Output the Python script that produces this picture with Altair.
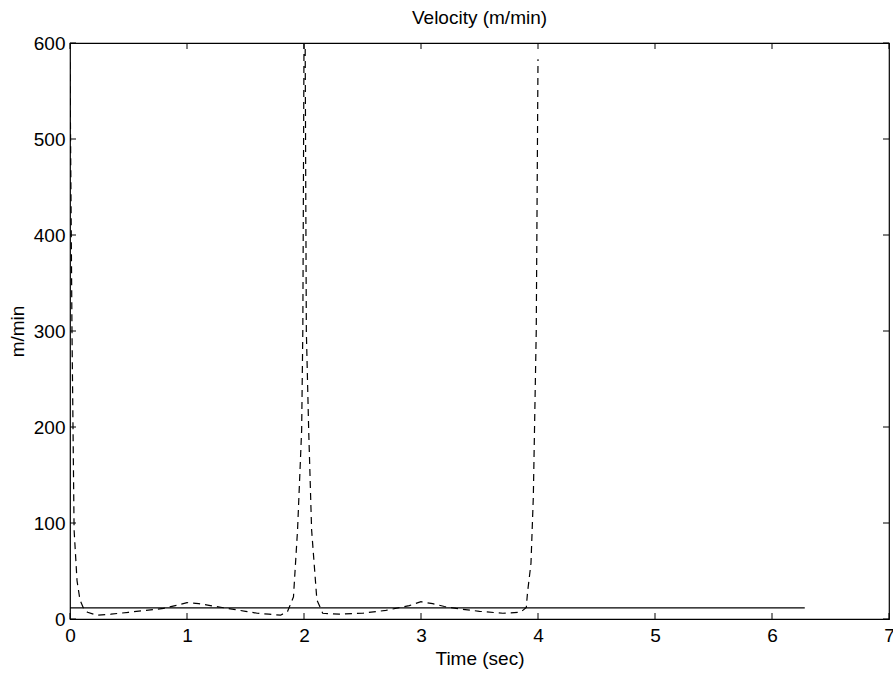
import altair as alt
import pandas as pd

# Dashed curve (velocity)
t_vals = [0, 0.017, 0.035, 0.06, 0.085, 0.12, 0.15, 0.23, 0.35, 0.5, 0.65, 0.8, 0.9, 1.0,
          1.1, 1.2, 1.3, 1.4, 1.5, 1.6, 1.7, 1.8, 1.86, 1.91, 1.945, 1.98, 1.99, 2.0,
          2.005, 2.01, 2.02, 2.04, 2.065, 2.11, 2.16, 2.3, 2.5, 2.7, 2.9, 3.0, 3.1,
          3.2, 3.3, 3.5, 3.7, 3.85, 3.9, 3.91, 3.94, 3.96, 3.985, 4.0]
v_vals = [580, 300, 93, 40, 20, 10, 7, 4, 5, 7, 9, 11, 14, 17,
          16, 14, 12, 10, 8, 6, 5, 4, 8, 23, 93, 197, 302, 600,
          700, 600, 300, 197, 93, 20, 6, 5, 6, 9, 14, 18, 16,
          13, 11, 8, 6, 7, 12, 27, 58, 127, 300, 583]

# Solid reference line
ref_t = [0, 6.28]
ref_v = [11.5, 11.5]

x_ticks = [0, 1, 2, 3, 4, 5, 6, 7]
y_ticks = [0, 100, 200, 300, 400, 500, 600]

W, H = 819, 576
FONT = "Liberation Sans"

curve = pd.DataFrame({"t": t_vals, "v": v_vals})
ref = pd.DataFrame({"t": ref_t, "v": ref_v})
xt = pd.DataFrame({"t": x_ticks})
yt = pd.DataFrame({"v": y_ticks})

xs = alt.Scale(domain=[0, 7], nice=False, zero=False)
ys = alt.Scale(domain=[0, 600], nice=False)

xaxis = alt.Axis(values=x_ticks, format="d", ticks=False, domain=False, grid=False,
                 labelFontSize=19, labelFlush=False,
                 labelFont=FONT, labelColor="black", labelPadding=7, titleFont=FONT,
                 titleFontSize=19, titleFontWeight="normal", titleColor="black", titlePadding=4)
yaxis = alt.Axis(values=y_ticks, format="d", ticks=False, domain=False, grid=False,
                 labelFontSize=19, labelFlush=False,
                 labelFont=FONT, labelColor="black", labelPadding=5, titleFont=FONT,
                 titleFontSize=19, titleFontWeight="normal", titleColor="black", titlePadding=6)

base_line = alt.Chart(curve).mark_line(
    color="black", strokeWidth=1.2, strokeDash=[7, 5], clip=True
).encode(
    x=alt.X("t:Q", scale=xs, axis=xaxis, title="Time (sec)"),
    y=alt.Y("v:Q", scale=ys, axis=yaxis, title="m/min"),
    order="t:Q",
)

ref_line = alt.Chart(ref).mark_line(color="black", strokeWidth=1.2).encode(
    x=alt.X("t:Q", scale=xs),
    y=alt.Y("v:Q", scale=ys),
)

bottom_ticks = alt.Chart(xt).mark_rule(color="black", strokeWidth=1).encode(
    x=alt.X("t:Q", scale=xs), y=alt.value(H), y2=alt.value(H - 6))
top_ticks = alt.Chart(xt).mark_rule(color="black", strokeWidth=1).encode(
    x=alt.X("t:Q", scale=xs), y=alt.value(0), y2=alt.value(6))
left_ticks = alt.Chart(yt).mark_rule(color="black", strokeWidth=1).encode(
    y=alt.Y("v:Q", scale=ys), x=alt.value(0), x2=alt.value(6))
right_ticks = alt.Chart(yt).mark_rule(color="black", strokeWidth=1).encode(
    y=alt.Y("v:Q", scale=ys), x=alt.value(W), x2=alt.value(W - 6))

chart = alt.layer(
    base_line, ref_line, bottom_ticks, top_ticks, left_ticks, right_ticks
).properties(
    width=W, height=H,
    title=alt.TitleParams("Velocity (m/min)", font=FONT, fontSize=19, fontWeight="normal",
                          color="black", offset=6),
    autosize=alt.AutoSizeParams(type="none"),
    padding={"left": 70, "top": 43, "right": 4, "bottom": 55},
    background="white",
).configure_view(
    stroke="black", strokeWidth=1.2
)

chart.save("out.html", embed_options={"renderer": "svg", "actions": False})
